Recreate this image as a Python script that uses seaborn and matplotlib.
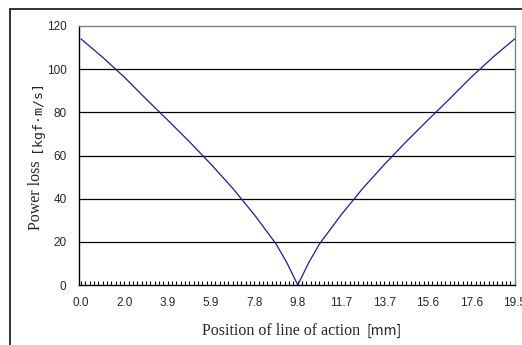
import matplotlib
matplotlib.use('Agg')
import matplotlib.pyplot as plt
import matplotlib.patches as patches
import seaborn as sns
import pandas as pd

# position along the line of action [mm] and power loss
position_mm = [0.0, 0.975, 1.95, 2.925, 3.9, 4.875, 5.85, 6.825, 7.8, 8.775, 9.26, 9.75,
               10.24, 10.725, 11.7, 12.675, 13.65, 14.625, 15.6, 16.575, 17.55, 18.525, 19.5]
power_loss = [114.0, 105.5, 96.3, 86.2, 76.4, 66.4, 55.9, 44.8, 32.5, 19.0, 10.3, 0.0,
              10.3, 19.0, 32.5, 44.8, 55.9, 66.4, 76.4, 86.2, 96.3, 105.5, 114.0]

# Excel style category axis: 101 points, every 10th labelled
n_points = 101
x_step = 19.5 / (n_points - 1)
x_labels = ['0.0', '2.0', '3.9', '5.9', '7.8', '9.8', '11.7', '13.7', '15.6', '17.6', '19.5']
y_ticks = [0, 20, 40, 60, 80, 100, 120]

df = pd.DataFrame({'position': position_mm, 'loss': power_loss})

sns.set_style('white')
plt.rcParams['font.family'] = ['Liberation Sans', 'DejaVu Sans']

W, H = 522, 345
fig = plt.figure(figsize=(W / 100, H / 100), dpi=100)
ax = fig.add_axes([79 / W, 1 - 285 / H, (515 - 79) / W, (285 - 26) / H])

# outer chart frame (only left and top edges are inside the picture)
fig.add_artist(patches.Rectangle((10 / W, -0.5), 2.0, 0.5 + 1 - 9 / H,
                                 transform=fig.transFigure, fill=False,
                                 edgecolor='#333333', linewidth=1.4, clip_on=False))

for y in y_ticks[1:-1]:
    ax.axhline(y, color='black', linewidth=0.9, zorder=1)

sns.lineplot(data=df, x='position', y='loss', color='#1c1c96', linewidth=0.9,
             ax=ax, zorder=3)

ax.set_xlim(-0.09, 19.52)
ax.set_ylim(0, 120)
ax.set_yticks(y_ticks)
ax.set_yticklabels([str(v) for v in y_ticks])
ax.tick_params(axis='y', length=0, pad=9, labelsize=8.5)

ax.set_xticks([i * x_step for i in range(0, n_points, 10)])
ax.set_xticklabels(x_labels)
ax.set_xticks([i * x_step for i in range(n_points)], minor=True)
ax.tick_params(axis='x', which='both', bottom=True, direction='in', length=3,
               width=0.8, color='black', labelsize=8.5, pad=9)
ax.set_xlabel('')
ax.set_ylabel('')

for side in ['left', 'bottom']:
    ax.spines[side].set_color('black')
    ax.spines[side].set_linewidth(1.0)
for side in ['top', 'right']:
    ax.spines[side].set_color('#808080')
    ax.spines[side].set_linewidth(1.0)

# axis titles: serif words followed by a gothic unit
fig.canvas.draw()
r = fig.canvas.get_renderer()

xa = fig.text(0, 1 - 335 / H, 'Position of line of action', family='Liberation Serif',
              size=11.5, ha='left', va='baseline')
xb = fig.text(0, 1 - 335 / H, '[mm]', family=['Noto Sans CJK JP', 'DejaVu Sans'],
              size=10, ha='left', va='baseline')
wa = xa.get_window_extent(r).width
wb = xb.get_window_extent(r).width
gap = 7
start = 302 - (wa + gap + wb) / 2
xa.set_x(start / W)
xb.set_x((start + wa + gap) / W)

ya = fig.text(40 / W, 0, 'Power loss', family='Liberation Serif', size=11.5,
              rotation=90, rotation_mode='anchor', ha='left', va='baseline')
yb = fig.text(40 / W, 0, '[kgf·m/s]', family='DejaVu Sans Mono',
              size=9.5, rotation=90, rotation_mode='anchor', ha='left', va='baseline')
ha_ = ya.get_window_extent(r).height
hb_ = yb.get_window_extent(r).height
gap = 9
start = 155 + (ha_ + gap + hb_) / 2
ya.set_y(1 - start / H)
yb.set_y(1 - (start - ha_ - gap) / H)

fig.savefig('out.png', dpi=100)
